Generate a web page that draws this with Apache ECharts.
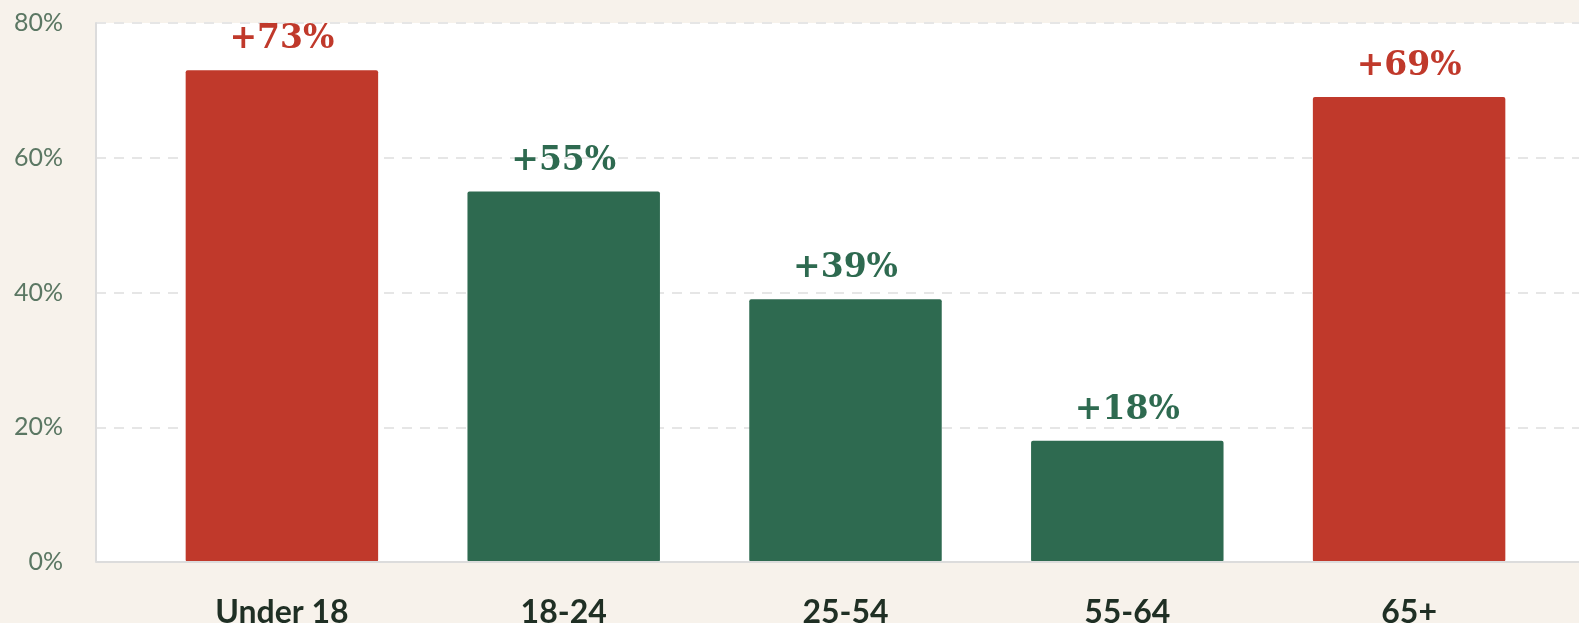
<!DOCTYPE html>
<html><head><meta charset="utf-8">
<script src="https://cdn.jsdelivr.net/npm/echarts@6/dist/echarts.min.js"></script>
<style>html,body{margin:0;padding:0;background:#f7f2eb;}#c{width:1579px;height:623px;}</style>
</head><body><div id="c"></div>
<script>
const categories = ['Under 18', '18-24', '25-54', '55-64', '65+'];
const values = [73, 55, 39, 18, 69];
const highlight = [true, false, false, false, true];
const yTicks = [0, 20, 40, 60, 80];

const RED = '#c0392b', GREEN = '#2e6a50';
const chart = echarts.init(document.getElementById('c'));
chart.setOption({
  backgroundColor: '#f7f2eb',
  animation: false,
  grid: [
    {left: 96, right: -10, top: 23, bottom: 61, show: true, backgroundColor: '#ffffff', borderWidth: 0, outerBoundsMode: 'none', containLabel: false},
    {left: 141, right: 29, top: 23, bottom: 61, outerBoundsMode: 'none', containLabel: false}
  ],
  xAxis: [
    {gridIndex: 0, type: 'value', show: false, min: 0, max: 1},
    {gridIndex: 1, type: 'category', data: categories,
     axisLine: {show: false}, axisTick: {show: false},
     axisLabel: {margin: 35, color: '#1f2f24', fontSize: 32, fontWeight: 'bold', fontFamily: 'Lato'}}
  ],
  yAxis: [
    {gridIndex: 0, type: 'value', min: yTicks[0], max: yTicks[yTicks.length-1], interval: 20,
     axisLine: {show: true, lineStyle: {color: '#dcdcdc', width: 2}},
     axisTick: {show: false},
     axisLabel: {formatter: '{value}%', color: '#5b7763', fontSize: 25, margin: 33, fontFamily: 'Lato'},
     splitLine: {show: true, lineStyle: {color: '#e6e6e6', width: 2, type: [10, 8]}}},
    {gridIndex: 1, type: 'value', min: 0, max: 80, show: false, splitLine: {show: false}}
  ],
  series: [
    {type: 'line', xAxisIndex: 0, yAxisIndex: 0, data: [], silent: true,
     markLine: {silent: true, symbol: 'none', label: {show: false},
       lineStyle: {color: '#dcdcdc', width: 2, type: 'solid'}, data: [{yAxis: 0}]}},
    {type: 'bar', xAxisIndex: 1, yAxisIndex: 1, barWidth: '68.3%',
     data: values.map((v, i) => ({value: v, itemStyle: {color: highlight[i] ? RED : GREEN, borderRadius: 2},
       label: {color: highlight[i] ? RED : GREEN}})),
     label: {show: true, position: 'top', distance: 14, formatter: p => '+' + p.value + '%',
       fontFamily: 'DejaVu Serif', fontWeight: 'bold', fontSize: 33}}
  ]
});
</script></body></html>
